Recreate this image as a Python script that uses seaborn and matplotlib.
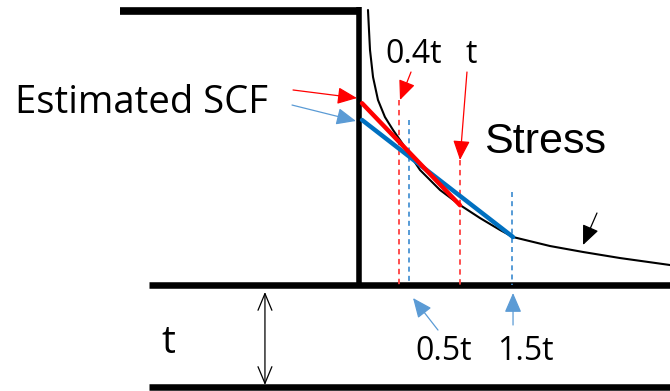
import matplotlib
matplotlib.use("Agg")
import matplotlib.pyplot as plt
import seaborn as sns
import pandas as pd

# ---- data (units of plate thickness t; x from weld toe, y = stress) ----
stress_x = [0.089, 0.109, 0.139, 0.188, 0.257, 0.337, 0.426, 0.604, 0.802, 1.0,
            1.198, 1.396, 1.525, 1.891, 2.218, 2.584, 3.079]
stress_y = [2.723, 2.327, 2.059, 1.832, 1.663, 1.535, 1.406, 1.139, 0.941, 0.792,
            0.663, 0.545, 0.475, 0.386, 0.327, 0.267, 0.198]
red_x = [0.03, 1.0]        # extrapolation through 0.4t and t
red_y = [1.80, 0.79]
blue_x = [0.03, 1.525]     # extrapolation through 0.5t and 1.5t
blue_y = [1.634, 0.475]
red_ref = [0.4, 1.0]
red_ref_top = [1.83, 1.24]
blue_ref = [0.5, 1.515]
blue_ref_top = [1.634, 0.92]
red_labels = ["0.4t", "t"]
blue_labels = ["0.5t", "1.5t"]

RED = "#FF0000"
RED_D = "#FF4040"
BLUE = "#0070C0"
BLUE_A = "#5B9BD5"
BLUE_D = "#3A8AD0"

sns.set_theme(style="white")
plt.rcParams["font.family"] = ["Open Sans", "DejaVu Sans"]

fig = plt.figure(figsize=(6.7, 3.91), dpi=100)
ax = fig.add_axes([0, 0, 1, 1])

# structure
ax.plot([-2.366, 0.02], [2.713, 2.713], color="black", lw=5.5, solid_capstyle="butt")
ax.plot([0.0, 0.0], [2.75, -0.02], color="black", lw=4, solid_capstyle="butt")
ax.plot([-2.079, 3.1], [0.0, 0.0], color="black", lw=4.7, solid_capstyle="butt")
ax.plot([-2.079, 3.1], [-1.01, -1.01], color="black", lw=4.7, solid_capstyle="butt")

# dashed reference lines
for xr, yt in zip(red_ref, red_ref_top):
    ax.plot([xr, xr], [yt, 0.0], color=RED_D, lw=1.3, ls=(0, (3, 2.5)))
for xr, yt in zip(blue_ref, blue_ref_top):
    ax.plot([xr, xr], [yt, 0.0], color=BLUE_D, lw=1.2, ls=(0, (3, 2.5)))

# stress curve and extrapolation lines
df = pd.DataFrame({"x": stress_x, "y": stress_y})
sns.lineplot(data=df, x="x", y="y", ax=ax, color="black", lw=1.5, sort=False)
sns.lineplot(x=blue_x, y=blue_y, ax=ax, color=BLUE, lw=3.2, sort=False)
sns.lineplot(x=red_x, y=red_y, ax=ax, color=RED, lw=3.2, sort=False)
ax.set_xlim(-3.554, 3.079)
ax.set_ylim(-1.0495, 2.822)
ax.axis("off")

def arrow(tail, tip, color, lw=0.9, style="-|>,head_length=0.6,head_width=0.26", ms=20):
    ax.annotate("", xy=tip, xytext=tail,
                arrowprops=dict(arrowstyle=style, color=color, lw=lw,
                                mutation_scale=ms, shrinkA=0, shrinkB=0))

# red arrows to 0.4t and t
arrow((0.515, 2.109), (0.406, 1.832), RED)
arrow((1.069, 2.109), (1.0, 1.238), RED)
# SCF arrows
arrow((-0.653, 1.931), (-0.02, 1.851), RED)
arrow((-0.663, 1.782), (-0.03, 1.624), BLUE_A)
# blue arrows below plate
arrow((0.782, -0.446), (0.535, -0.129), BLUE_A)
arrow((1.525, -0.396), (1.525, -0.079), BLUE_A)
# stress arrow
arrow((2.356, 0.713), (2.218, 0.396), "black")
# thickness double arrow
ax.annotate("", xy=(-0.931, -0.99), xytext=(-0.931, -0.069),
            arrowprops=dict(arrowstyle="<->,head_length=0.6,head_width=0.25",
                            color="black", lw=0.9, mutation_scale=20,
                            shrinkA=0, shrinkB=0))

# texts
ax.text(-3.406, 1.703, "Estimated SCF", fontsize=27.5, va="baseline", ha="left", color="black")
ax.text(1.238, 1.307, "Stress", fontsize=31, va="baseline", ha="left",
        family=["Liberation Sans", "DejaVu Sans"], color="black")
ax.text(0.545, 2.198, red_labels[0], fontsize=23, va="baseline", ha="center", color="black")
ax.text(1.109, 2.198, red_labels[1], fontsize=23, va="baseline", ha="center", color="black")
ax.text(0.842, -0.743, blue_labels[0], fontsize=23, va="baseline", ha="center", color="black")
ax.text(1.644, -0.743, blue_labels[1], fontsize=23, va="baseline", ha="center", color="black")
ax.text(-1.891, -0.673, "t", fontsize=28, va="baseline", ha="center", color="black")

fig.savefig("out.png", dpi=100)
